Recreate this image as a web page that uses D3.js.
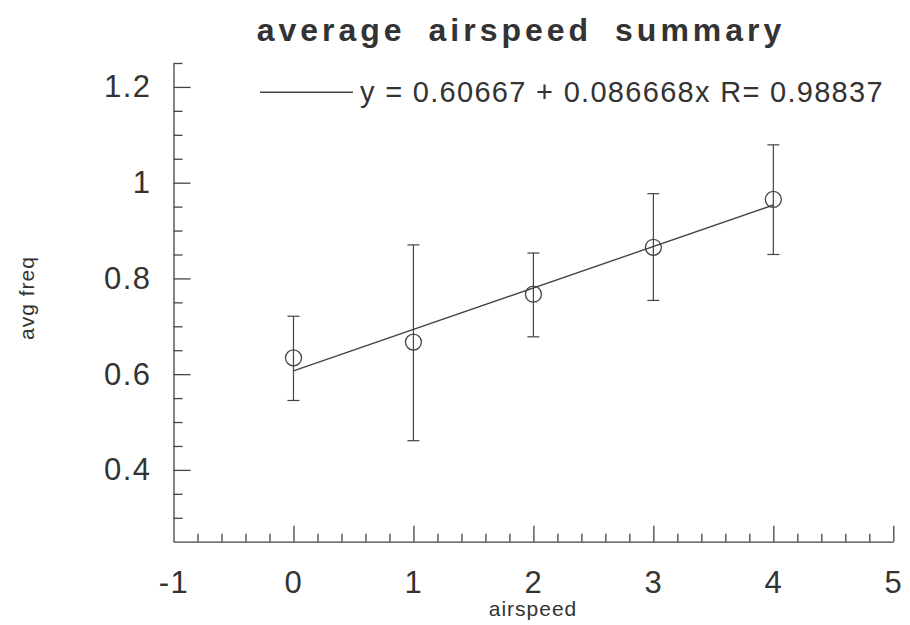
<!DOCTYPE html>
<html>
<head>
<meta charset="utf-8">
<script src="https://cdn.jsdelivr.net/npm/d3@7"></script>
<style>
  body { margin: 0; background: #fff; }
  text { font-family: "Liberation Sans", Arial, sans-serif; fill: #333; }
  .axis path, .axis line { stroke: #444; stroke-width: 1.3; }
  .axis text { font-size: 31px; letter-spacing: 1.5px; fill: #333; }
</style>
</head>
<body>
<div id="chart"></div>
<script>
// data
const airspeed = [0, 1, 2, 3, 4];
const avgFreq = [0.634, 0.667, 0.767, 0.865, 0.965];
const errLow = [0.545, 0.461, 0.678, 0.754, 0.850];
const errHigh = [0.721, 0.870, 0.853, 0.977, 1.079];

// fit y = a + b x
const fitA = 0.60667, fitB = 0.086668, fitR = 0.98837;
const fitRange = [0, 4];

const xMajor = [-1, 0, 1, 2, 3, 4, 5];
const xMinor = d3.range(-0.8, 5, 0.2).filter(v => Math.abs(v - Math.round(v)) > 0.01);
const yMajor = [0.4, 0.6, 0.8, 1.0, 1.2];
const yMinor = d3.range(0.3, 1.26, 0.05).filter(v => yMajor.every(m => Math.abs(v - m) > 0.01));

const W = 910, H = 625;
const svg = d3.select("#chart").append("svg").attr("width", W).attr("height", H);

const x = d3.scaleLinear().domain([-1, 5]).range([173.5, 893.3]);
const y = d3.scaleLinear().domain([0.25, 1.25]).range([541.7, 63]);
const y0 = y.range()[0], x0 = x.range()[0];

// plain hyphen minus, like the original
const fmt = d => String(+d.toFixed(1));

// x axis: majors with labels, minors without
svg.append("g").attr("class", "axis")
    .attr("transform", `translate(0,${y0})`)
    .call(d3.axisBottom(x).tickValues(xMajor).tickSize(-16).tickSizeOuter(0)
        .tickPadding(29).tickFormat(fmt))
    .call(g => g.selectAll(".tick").filter(d => d === -1).select("line").remove());
svg.append("g").attr("class", "axis")
    .attr("transform", `translate(0,${y0})`)
    .call(d3.axisBottom(x).tickValues(xMinor).tickSize(-8).tickFormat(""))
    .call(g => g.select(".domain").remove());

// y axis
svg.append("g").attr("class", "axis")
    .attr("transform", `translate(${x0},0)`)
    .call(d3.axisLeft(y).tickValues(yMajor).tickSize(-17).tickSizeOuter(0)
        .tickPadding(22).tickFormat(fmt));
svg.append("g").attr("class", "axis")
    .attr("transform", `translate(${x0},0)`)
    .call(d3.axisLeft(y).tickValues(yMinor).tickSize(-9).tickFormat(""))
    .call(g => g.select(".domain").remove());

const pts = airspeed.map((a, i) => ({ a, v: avgFreq[i], lo: errLow[i], hi: errHigh[i] }));
const ink = "#444";

// error bars
const eb = svg.append("g").attr("stroke", ink).attr("stroke-width", 1.2);
eb.selectAll(".bar").data(pts).join("line")
    .attr("x1", d => x(d.a)).attr("x2", d => x(d.a))
    .attr("y1", d => y(d.lo)).attr("y2", d => y(d.hi));
eb.selectAll(".capHi").data(pts).join("line")
    .attr("x1", d => x(d.a) - 6).attr("x2", d => x(d.a) + 6)
    .attr("y1", d => y(d.hi)).attr("y2", d => y(d.hi));
eb.selectAll(".capLo").data(pts).join("line")
    .attr("x1", d => x(d.a) - 6).attr("x2", d => x(d.a) + 6)
    .attr("y1", d => y(d.lo)).attr("y2", d => y(d.lo));

// fit line
svg.append("line")
    .attr("x1", x(fitRange[0])).attr("y1", y(fitA + fitB * fitRange[0]))
    .attr("x2", x(fitRange[1])).attr("y2", y(fitA + fitB * fitRange[1]))
    .attr("stroke", ink).attr("stroke-width", 1.4);

// markers
svg.selectAll(".pt").data(pts).join("circle")
    .attr("cx", d => x(d.a)).attr("cy", d => y(d.v)).attr("r", 8)
    .attr("fill", "none").attr("stroke", ink).attr("stroke-width", 1.3);

// legend
svg.append("line").attr("x1", 260).attr("x2", 353).attr("y1", 92.3).attr("y2", 92.3)
    .attr("stroke", ink).attr("stroke-width", 1.4);
svg.append("text").attr("x", 360).attr("y", 102).attr("font-size", 29)
    .attr("letter-spacing", 1.3)
    .text(`y = ${fitA} + ${fitB}x R= ${fitR}`);

// title and axis labels
svg.append("text").attr("x", 521).attr("y", 41).attr("text-anchor", "middle")
    .attr("font-size", 32).attr("font-weight", "bold")
    .attr("letter-spacing", 4).attr("word-spacing", 10)
    .text("average airspeed summary");
svg.append("text").attr("x", 533).attr("y", 616).attr("text-anchor", "middle")
    .attr("font-size", 21).attr("letter-spacing", 1)
    .text("airspeed");
svg.append("text").attr("transform", "translate(34,298) rotate(-90)")
    .attr("text-anchor", "middle").attr("font-size", 21).attr("letter-spacing", 1)
    .text("avg freq");
</script>
</body>
</html>
